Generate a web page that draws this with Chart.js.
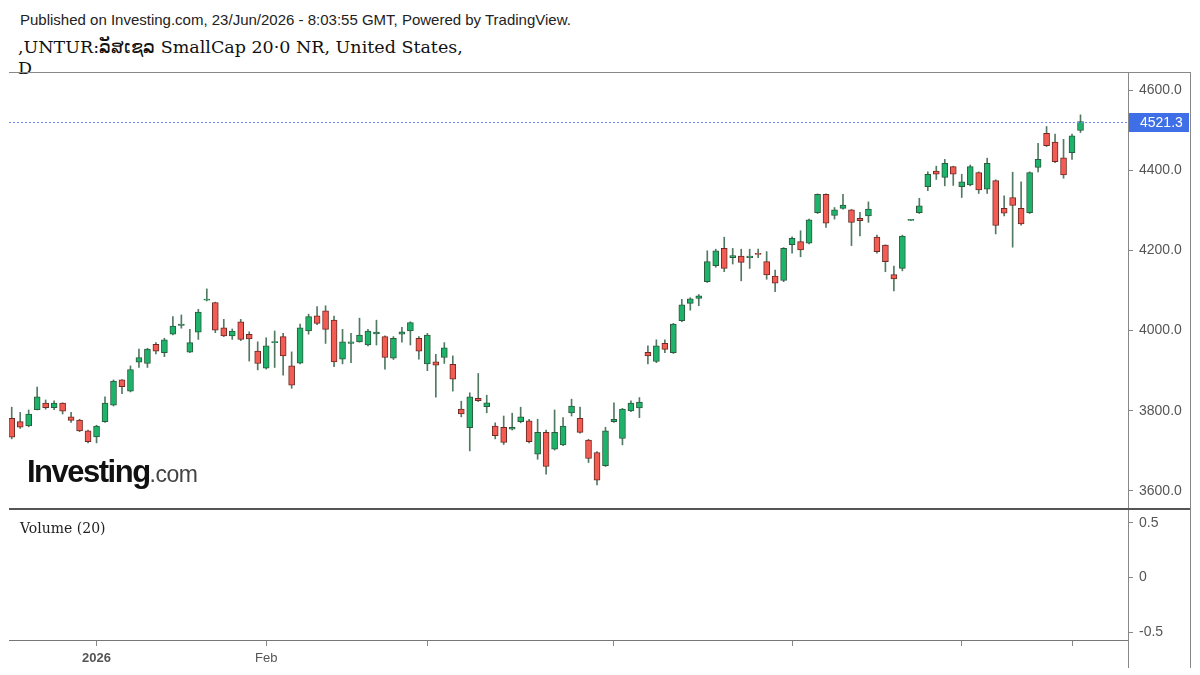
<!DOCTYPE html>
<html lang="en">
<head>
<meta charset="UTF-8">
<title>SmallCap 2000 NR - Daily</title>
<script src="https://cdn.jsdelivr.net/npm/chart.js"></script>
<style>
  body { margin: 0; width: 1200px; height: 675px; background: #fff; position: relative; overflow: hidden;
         font-family: "Liberation Sans", Arial, sans-serif; }
  .pub { position: absolute; left: 20px; top: 11px; font-size: 15px; color: #222; }
  .ttl { position: absolute; left: 18px; top: 37px; font-family: "DejaVu Serif", serif; font-size: 17.5px; line-height: 21px; color: #111; }
  .vol-label { position: absolute; left: 20px; top: 520px; font-family: "DejaVu Serif", serif; font-size: 14px; color: #222; }
  .logo { position: absolute; left: 27px; top: 454px; font-size: 31px; font-weight: bold; letter-spacing: -1.5px; color: #111; }
  .logo span { font-size: 23px; font-weight: normal; letter-spacing: -0.5px; color: #444; }
  .line { position: absolute; background: #888; }
  #pricebox { position: absolute; left: 0; top: 72px; width: 1200px; height: 437px; }
  #volbox { position: absolute; left: 0; top: 509px; width: 1200px; height: 166px; }
</style>
</head>
<body>
  <div class="pub">Published on Investing.com, 23/Jun/2026 - 8:03:55 GMT, Powered by TradingView.</div>
  <div class="ttl">,UNTUR:ລັສເຊລ SmallCap 20·0 NR, United States,<br>D</div>

  <div id="pricebox"><canvas id="priceChart" width="1200" height="437"></canvas></div>
  <div id="volbox"><canvas id="volChart" width="1200" height="166"></canvas></div>

  <div class="line" style="left:9px; top:72px; width:1182px; height:1px;"></div>
  <div class="line" style="left:9px; top:508px; width:1182px; height:2px; background:#555;"></div>
  <div class="line" style="left:1190px; top:72px; width:1px; height:596px;"></div>
  <div class="line" style="left:1128px; top:640px; width:1px; height:28px;"></div>

  <div class="vol-label">Volume (20)</div>
  <div class="logo">Investing<span>.com</span></div>

<script>
// daily candles, 17 Dec 2025 .. 22 Jun 2026
var opens = [3781,3773,3762,3803,3819,3808,3819,3785,3777,3750,3735,3773,3814,3877,3849,3921,3918,3966,3945,3991,
  4013,3946,3996,4076,4070,4007,3987,4022,3991,3949,3906,3970,3985,3912,3919,3999,4037,4049,4026,3929,
  3968,3972,3964,3992,3985,3931,3991,3999,3981,3917,3922,3933,3916,3804,3758,3831,3810,3762,3759,3754,
  3773,3775,3692,3746,3704,3715,3795,3781,3727,3696,3663,3773,3731,3800,3807,3946,3923,3968,3945,4025,
  4068,4080,4122,4162,4205,4182,4186,4182,4193,4172,4136,4125,4214,4222,4218,4294,4340,4287,4305,4301,
  4280,4286,4233,4213,4140,4155,4275,4294,4359,4398,4382,4409,4359,4363,4394,4353,4374,4305,4332,4305,
  4294,4407,4492,4470,4431,4444,4499];
var highs = [3809,3796,3802,3859,3827,3825,3820,3796,3779,3752,3764,3835,3877,3878,3912,3954,3956,3970,3981,4035,
  4039,4003,4053,4104,4071,4028,4004,4028,3997,3972,3982,3999,3993,3947,4016,4041,4060,4062,4036,4003,
  3993,4031,4003,4026,3987,3985,4008,4022,3985,3993,3941,3970,3937,3824,3845,3893,3839,3770,3787,3794,
  3809,3779,3779,3752,3802,3783,3829,3809,3729,3698,3759,3820,3806,3825,3833,3962,3977,3977,4018,4078,
  4082,4090,4199,4203,4233,4205,4203,4203,4203,4197,4151,4207,4234,4249,4278,4341,4341,4307,4340,4302,
  4295,4321,4238,4214,4161,4238,4277,4330,4396,4410,4427,4410,4390,4413,4396,4430,4376,4336,4395,4371,
  4396,4467,4509,4490,4477,4490,4538];
var lows = [3730,3756,3760,3802,3804,3803,3792,3771,3748,3720,3720,3771,3812,3843,3847,3908,3908,3942,3935,3989,
  4006,3945,3978,4074,3995,3985,3978,3975,3924,3902,3904,3908,3889,3856,3917,3991,4015,3968,3910,3917,
  3920,3971,3962,3964,3904,3928,3971,3964,3929,3900,3834,3918,3849,3785,3700,3823,3795,3730,3716,3752,
  3770,3720,3679,3642,3702,3713,3787,3744,3671,3615,3661,3771,3715,3798,3783,3917,3920,3945,3943,4022,
  4051,4062,4120,4158,4147,4166,4124,4155,4182,4128,4097,4122,4193,4184,4216,4292,4257,4278,4303,4212,
  4236,4270,4193,4147,4099,4149,4274,4292,4349,4377,4361,4362,4332,4361,4342,4342,4241,4286,4208,4263,
  4292,4396,4459,4419,4380,4427,4494];
var closes = [3734,3759,3792,3835,3808,3819,3799,3776,3750,3723,3762,3819,3874,3860,3903,3933,3954,3949,3977,4011,
  4016,3970,4046,4078,4001,3987,3999,3978,3979,3918,3962,3972,3937,3864,4007,4035,4018,4003,3922,3972,
  3972,3989,3999,3996,3933,3981,3997,4020,3949,3989,3914,3957,3879,3792,3835,3825,3820,3738,3721,3759,
  3785,3723,3746,3661,3746,3762,3812,3746,3681,3627,3750,3779,3804,3819,3822,3937,3962,3953,4016,4064,
  4079,4087,4172,4199,4155,4187,4170,4186,4190,4139,4118,4205,4230,4201,4276,4340,4268,4301,4313,4270,
  4274,4303,4197,4172,4129,4236,4276,4311,4390,4390,4417,4390,4371,4409,4351,4417,4262,4293,4312,4266,
  4394,4427,4461,4421,4388,4486,4521.3];

var lastPrice = 4521.3;
var priceTicks = [3600, 3800, 4000, 4200, 4400, 4600];
var volTicks = [-0.5, 0, 0.5];
var xTickIdx = [10, 30, 49, 71, 92, 112, 125];
var xTickText = ['2026', 'Feb', '', '', '', '', ''];

var upColor = '#1db36a', downColor = '#f35c52';
var upEdge = '#2c5a3d', downEdge = '#6e2a24', wickColor = '#527a63';
var xMin = -0.32, xMax = 131.6;

var bodies = opens.map(function (o, i) { return { x: i, y: [o, closes[i]] }; });
var wicks = highs.map(function (h, i) { return { x: i, y: [lows[i], h] }; });
function isUp(i) { return closes[i] >= opens[i]; }

// chart.js keeps half a label of room above/below an axis, we don't want that here
function noPad(s) { s.paddingTop = 0; s.paddingBottom = 0; s.paddingLeft = 0; s.paddingRight = 0; }

// dotted last price line + blue price tag
var lastPricePlugin = {
  id: 'lastPrice',
  afterDraw: function (chart) {
    var ctx = chart.ctx, a = chart.chartArea;
    var y = Math.round(chart.scales.y.getPixelForValue(lastPrice)) + 0.5;
    ctx.save();
    ctx.strokeStyle = '#6d8cf2';
    ctx.setLineDash([2, 2]);
    ctx.lineWidth = 1;
    ctx.beginPath(); ctx.moveTo(a.left, y); ctx.lineTo(a.right, y); ctx.stroke();
    ctx.setLineDash([]);
    ctx.fillStyle = '#3f6fe6';
    ctx.fillRect(a.right + 1, y - 9.5, 60, 19);
    ctx.fillStyle = '#fff';
    ctx.font = '14px "Liberation Sans", Arial, sans-serif';
    ctx.textBaseline = 'middle';
    ctx.fillText(lastPrice.toFixed(1), a.right + 12, y + 1);
    ctx.restore();
  }
};

new Chart(document.getElementById('priceChart'), {
  type: 'bar',
  data: {
    datasets: [
      { data: bodies, order: 0, grouped: false, barThickness: 6, borderWidth: 1, minBarLength: 1,
        backgroundColor: function (c) { return isUp(c.dataIndex) ? upColor : downColor; },
        borderColor: function (c) { return isUp(c.dataIndex) ? upEdge : downEdge; },
        borderSkipped: false },
      { data: wicks, order: 1, grouped: false, barThickness: 1, borderWidth: 0,
        backgroundColor: wickColor }
    ]
  },
  options: {
    responsive: false, animation: false,
    layout: { padding: { left: 9, right: 0, top: 0, bottom: 0 } },
    plugins: { legend: { display: false }, tooltip: { enabled: false } },
    scales: {
      x: { type: 'linear', min: xMin, max: xMax, offset: false, display: false },
      y: {
        position: 'right', min: 3555.1, max: 4644.9,
        afterBuildTicks: function (s) { s.ticks = priceTicks.map(function (v) { return { value: v }; }); },
        afterFit: function (s) { s.width = 72; noPad(s); },
        grid: { drawOnChartArea: false, drawTicks: true, tickLength: 5, color: '#888' },
        border: { display: true, color: '#888' },
        ticks: { padding: 6, color: '#555', font: { family: '"Liberation Sans", Arial, sans-serif', size: 14 },
                 callback: function (v) { return v.toFixed(1); } }
      }
    }
  },
  plugins: [lastPricePlugin]
});

new Chart(document.getElementById('volChart'), {
  type: 'bar',
  data: { datasets: [{ data: [] }] },
  options: {
    responsive: false, animation: false,
    layout: { padding: { left: 9, right: 0, top: 0, bottom: 0 } },
    plugins: { legend: { display: false }, tooltip: { enabled: false } },
    scales: {
      x: {
        type: 'linear', min: xMin, max: xMax, offset: false,
        afterBuildTicks: function (s) { s.ticks = xTickIdx.map(function (v) { return { value: v }; }); },
        afterFit: function (s) { s.height = 35; noPad(s); },
        grid: { offset: false, drawOnChartArea: false, drawTicks: true, tickLength: 6, color: '#888' },
        border: { display: true, color: '#777' },
        ticks: {
          padding: 5, color: '#555', maxRotation: 0, autoSkip: false,
          font: function (c) { return { family: '"Liberation Sans", Arial, sans-serif', size: 13, weight: c.index === 0 ? 'bold' : 'normal' }; },
          callback: function (v) { var k = xTickIdx.indexOf(v); return k < 0 ? '' : xTickText[k]; }
        }
      },
      y: {
        position: 'right', min: -0.573, max: 0.628,
        afterBuildTicks: function (s) { s.ticks = volTicks.map(function (v) { return { value: v }; }); },
        afterFit: function (s) { s.width = 72; noPad(s); },
        grid: { drawOnChartArea: false, drawTicks: true, tickLength: 5, color: '#888' },
        border: { display: true, color: '#888' },
        ticks: { padding: 6, color: '#555', font: { family: '"Liberation Sans", Arial, sans-serif', size: 14 },
                 callback: function (v) { return String(v); } }
      }
    }
  }
});
</script>
</body>
</html>
